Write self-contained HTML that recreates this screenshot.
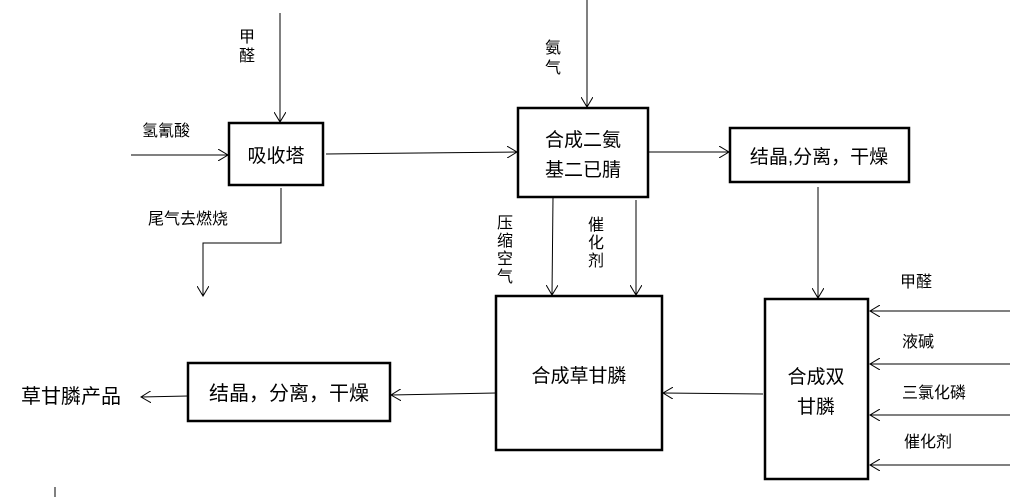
<!DOCTYPE html>
<html><head><meta charset="utf-8"><style>
body{margin:0;background:#fff;}
svg text{font-family:"Liberation Sans","Noto Sans CJK SC",sans-serif;fill:#000;}
</style></head><body>
<svg width="1014" height="497" viewBox="0 0 1014 497" xmlns="http://www.w3.org/2000/svg">
<defs><marker id="a" markerWidth="12" markerHeight="12" refX="10" refY="6" orient="auto" markerUnits="userSpaceOnUse"><path d="M0,0 L10,6 L0,12" fill="none" stroke="#000" stroke-width="1"/></marker></defs>
<g stroke="#000" stroke-width="1" fill="none">
<line x1="280" y1="13" x2="280" y2="122" marker-end="url(#a)"/>
<line x1="587" y1="0" x2="587" y2="107" marker-end="url(#a)"/>
<line x1="131" y1="155" x2="228" y2="155" marker-end="url(#a)"/>
<line x1="326" y1="154" x2="517" y2="152" marker-end="url(#a)"/>
<polyline points="281,188 281,243 203,243 203,296" marker-end="url(#a)"/>
<line x1="648" y1="152" x2="729" y2="152" marker-end="url(#a)"/>
<line x1="818" y1="187" x2="818" y2="298" marker-end="url(#a)"/>
<line x1="553" y1="197" x2="552" y2="295" marker-end="url(#a)"/>
<line x1="636" y1="200" x2="636" y2="295" marker-end="url(#a)"/>
<line x1="1010" y1="311" x2="870" y2="311" marker-end="url(#a)"/>
<line x1="1010" y1="364" x2="870" y2="364" marker-end="url(#a)"/>
<line x1="1010" y1="415" x2="870" y2="415" marker-end="url(#a)"/>
<line x1="1010" y1="465" x2="870" y2="465" marker-end="url(#a)"/>
<line x1="763" y1="394" x2="663" y2="393" marker-end="url(#a)"/>
<line x1="496" y1="393" x2="391" y2="395" marker-end="url(#a)"/>
<line x1="188" y1="396" x2="141" y2="397" marker-end="url(#a)"/>
<line x1="55" y1="487" x2="55" y2="497"/>
</g>
<g stroke="#000" stroke-width="2.5" fill="none">
<rect x="229" y="123" width="94" height="62"/>
<rect x="518" y="108" width="130" height="89"/>
<rect x="730" y="128" width="179" height="54"/>
<rect x="496" y="296" width="166" height="154"/>
<rect x="765" y="299" width="103" height="180"/>
<rect x="188" y="363" width="202" height="58"/>
</g>
<g font-size="19">
<text x="276" y="162" text-anchor="middle">吸收塔</text>
<text x="583" y="146" text-anchor="middle">合成二氨</text>
<text x="583" y="176" text-anchor="middle">基二已腈</text>
<text x="819" y="163" text-anchor="middle">结晶,分离，干燥</text>
<text x="579" y="382" text-anchor="middle">合成草甘膦</text>
<text x="816" y="383" text-anchor="middle">合成双</text>
<text x="816" y="413" text-anchor="middle">甘膦</text>
<text x="289" y="400" text-anchor="middle" font-size="20">结晶，分离，干燥</text>
<text x="71" y="403" text-anchor="middle" font-size="20">草甘膦产品</text>
</g>
<g font-size="16">
<text x="239" y="42">甲</text><text x="239" y="61">醛</text>
<text x="545" y="53">氨</text><text x="545" y="73">气</text>
<text x="142" y="136">氢氰酸</text>
<text x="148" y="224">尾气去燃烧</text>
<text x="497" y="228">压</text><text x="497" y="246">缩</text><text x="497" y="264">空</text><text x="497" y="282">气</text>
<text x="588" y="230">催</text><text x="588" y="248">化</text><text x="588" y="266">剂</text>
<text x="900" y="287">甲醛</text>
<text x="902" y="347">液碱</text>
<text x="902" y="398">三氯化磷</text>
<text x="904" y="447">催化剂</text>
</g>
</svg>
</body></html>
